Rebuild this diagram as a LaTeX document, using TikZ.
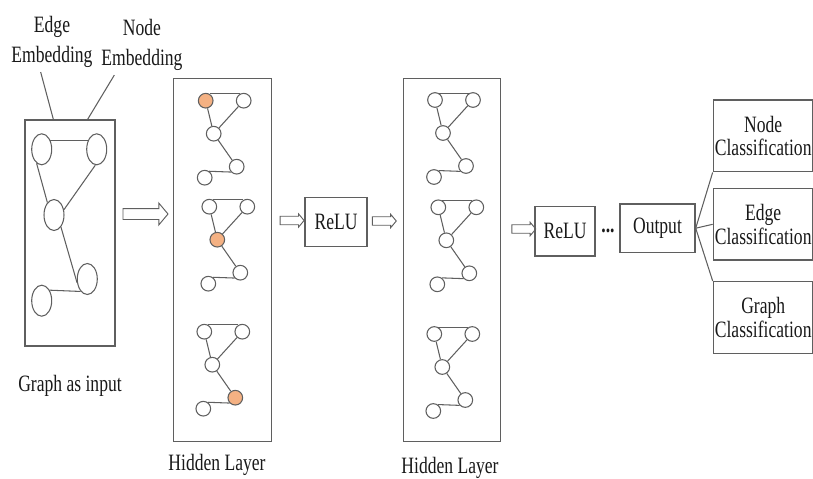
\documentclass[tikz,border=0pt]{standalone}
\usepackage{fontspec}
\setmainfont{Liberation Serif}[FakeStretch=0.75]
\usepackage{xcolor}
\usepackage{tikz}
\usetikzlibrary{shapes.geometric}
\usetikzlibrary{shapes.arrows}

\definecolor{hlorange}{RGB}{244,177,131}
\definecolor{linegray}{RGB}{95,95,95}

% one small graph: name, x, y of first node, then a style for each node
\newcommand{\minigraph}[8]{%
  \node[gnode,#4] (#1a) at (#2,#3) {};
  \node[gnode,#5] (#1b) at (#2+38,#3) {};
  \node[gnode,#6] (#1c) at (#2+8,#3+33) {};
  \node[gnode,#7] (#1d) at (#2+31,#3+66) {};
  \node[gnode,#8] (#1e) at (#2-1,#3+77) {};
  \draw (#1a.60) -- (#1b.120);
  \draw (#1a) -- (#1c);
  \draw (#1b) -- (#1c);
  \draw (#1c) -- (#1d);
  \draw (#1e.55) -- (#1d.223);
}

\begin{document}
\begin{tikzpicture}[x=0.03cm, y=-0.03cm, color=linegray, line width=0.9pt,
    every node/.style={text=black!90, font=\fontsize{20}{20}\selectfont},
    box/.style={draw, rectangle, line width=1.2pt, inner sep=0pt, align=center},
    gnode/.style={draw, circle, fill=white, minimum size=0.44cm, inner sep=0pt},
    inode/.style={draw, ellipse, minimum width=0.6cm, minimum height=0.93cm, inner sep=0pt},
    hollow/.style={draw, fill=white, single arrow, inner xsep=0pt, single arrow tip angle=100, line width=0.8pt},
    hl/.style={fill=hlorange}]
    \useasboundingbox (0,0) rectangle (813,479);

    % labels on top
    \node[align=center, font=\fontsize{20}{25.6}\selectfont] (edgelbl) at (52,42) {Edge\\Embedding};
    \node[align=center, font=\fontsize{20}{25.6}\selectfont] (nodelbl) at (142,45) {Node\\Embedding};

    % input graph
    \node[box, minimum width=2.7cm, minimum height=6.78cm] (input) at (70,233) {};
    \node[inode] (ia) at (41.7,149.3) {};
    \node[inode] (ib) at (96.7,149.3) {};
    \node[inode] (ic) at (54,215) {};
    \node[inode] (id) at (87.3,279) {};
    \node[inode] (ie) at (41.7,300.7) {};
    \draw (ia.45) -- (ib.135);
    \draw (ia.250) -- (ic.118);
    \draw (ib.265) -- (ic.28);
    \draw (ic.300) -- (id.200);
    \draw (ie.53) -- (id.242);
    \node (inlbl) at (70,386) {Graph as input};

    \draw ([xshift=-0.34cm]edgelbl.south) -- ([xshift=-0.5cm]input.north);
    \draw ([xshift=-0.83cm]nodelbl.south) -- ([xshift=0.53cm]input.north);

    \node[hollow, minimum height=1.35cm, inner ysep=0.15cm, single arrow head extend=0.165cm] (ar1) at (143.2,214) {};

    % first hidden layer
    \node[box, minimum width=2.95cm, minimum height=10.9cm] (hl1) at (222.5,260) {};
    \minigraph{p}{205.7}{100.7}{hl}{}{}{}{}
    \minigraph{q}{209.3}{206.7}{}{}{hl}{}{}
    \minigraph{r}{204.3}{331.7}{}{}{}{hl}{}
    \node (hl1lbl) at (217,465) {Hidden Layer};

    \node[hollow, minimum height=0.72cm, inner ysep=0.114cm, single arrow head extend=0.072cm] (ar2) at (290.3,220.5) {};
    \node[box, minimum width=1.85cm, minimum height=1.48cm] (relu1) at (336,222) {ReLU};
    \node[hollow, minimum height=0.72cm, inner ysep=0.114cm, single arrow head extend=0.072cm] (ar3) at (382.5,221) {};

    % second hidden layer
    \node[box, minimum width=2.92cm, minimum height=10.9cm] (hl2) at (452,260) {};
    \minigraph{s}{435}{100}{}{}{}{}{}
    \minigraph{t}{438.3}{207.3}{}{}{}{}{}
    \minigraph{u}{434.3}{334}{}{}{}{}{}
    \node (hl2lbl) at (450,468) {Hidden Layer};

    \node[hollow, minimum height=0.72cm, inner ysep=0.114cm, single arrow head extend=0.072cm] (ar4) at (522,229) {};
    \node[box, minimum width=1.8cm, minimum height=1.48cm] (relu2) at (565,231.3) {ReLU};
    \node[font=\bfseries\fontsize{20}{20}\selectfont] (dots) at (608,231) {...};
    \node[box, minimum width=2.25cm, minimum height=1.45cm] (out) at (657.5,228.2) {Output};

    % tasks
    \node[box, minimum width=2.99cm, minimum height=2.15cm] (nodecls) at (763.2,135.9) {Node\\Classification};
    \node[box, minimum width=2.99cm, minimum height=2.15cm] (edgecls) at (763.2,224.3) {Edge\\Classification};
    \node[box, minimum width=2.99cm, minimum height=2.15cm] (graphcls) at (763.2,317.5) {Graph\\Classification};

    \draw (out.east) -- (nodecls.south west);
    \draw (out.east) -- (edgecls.west);
    \draw (out.east) -- (graphcls.north west);
\end{tikzpicture}
\end{document}
